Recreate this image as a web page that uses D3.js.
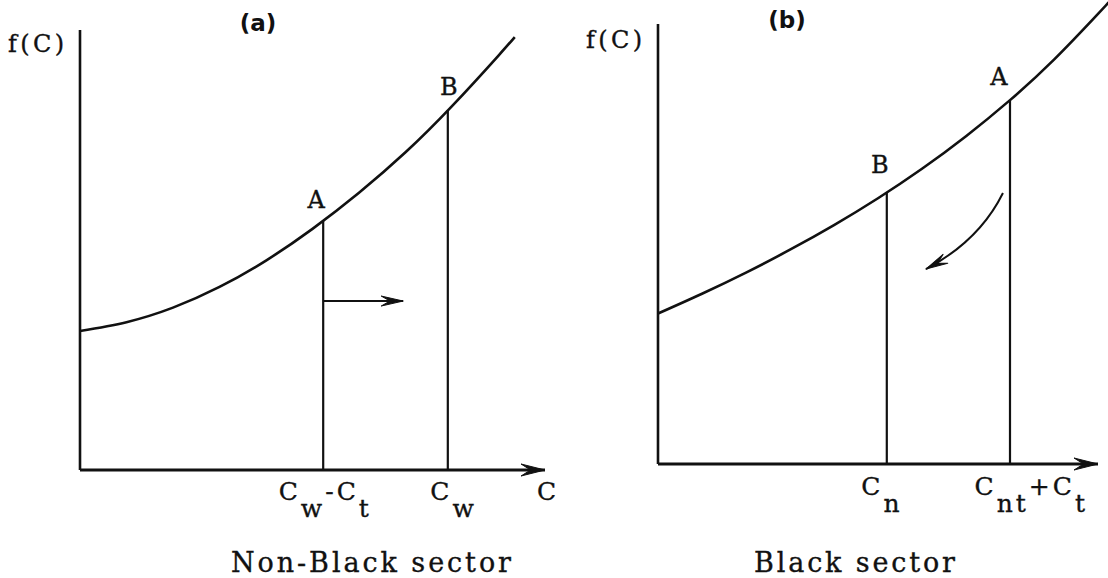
<!DOCTYPE html>
<html>
<head>
<meta charset="utf-8">
<script src="https://cdn.jsdelivr.net/npm/d3@7"></script>
<style>
  html, body { margin: 0; padding: 0; background: #fff; }
  svg { display: block; }
  text { font-family: "DejaVu Serif", "Liberation Serif", serif; fill: #111; stroke: #111; stroke-width: 0.35px; }
</style>
</head>
<body>
<svg id="chart" width="1108" height="578"></svg>
<script>
// ---- Panel (a): Non-Black sector ----
const curveA_C = [0, 1, 2, 3, 4, 5, 6, 7, 8, 9, 9.35];
const curveA_f = [3.16, 3.36, 3.69, 4.16, 4.76, 5.48, 6.30, 7.22, 8.27, 9.42, 9.84];
const pointsA_name = ["A", "B"];
const pointsA_C = [5.23, 7.91];
const pointsA_f = [5.67, 8.18];
// tick labels as [text, role] segments: 0 = normal, 1 = subscript
const ticksA_label = [
  [["C", 0], ["w", 1], ["-C", 0], ["t", 1]],
  [["C", 0], ["w", 1]]
];
const shiftA_C = [5.23, 6.95];   // horizontal arrow: A moves right
const shiftA_f = 3.84;

// ---- Panel (b): Black sector ----
const curveB_C = [0, 1, 2, 3, 4, 5, 6, 7, 8, 9, 10, 10.25];
const curveB_f = [3.42, 3.87, 4.35, 4.87, 5.43, 6.04, 6.71, 7.45, 8.27, 9.19, 10.23, 10.5];
const pointsB_name = ["B", "A"];
const pointsB_C = [5.2, 8.0];
const pointsB_f = [6.17, 8.27];
const ticksB_label = [
  [["C", 0], ["n", 1]],
  [["C", 0], ["nt", 1], ["+C", 0], ["t", 1]]
];
// curved arrow: A slides back toward B (start, control, end)
const moveB_C = [7.84, 7.3, 6.09];
const moveB_f = [6.16, 5.07, 4.43];

const panelTitles = ["(a)", "(b)"];
const sectorNames = ["Non-Black sector", "Black sector"];

const svg = d3.select("#chart");
const ink = "#111";

// arrowheads
const defs = svg.append("defs");
function head(id, len, half) {
  defs.append("marker")
    .attr("id", id)
    .attr("markerUnits", "userSpaceOnUse")
    .attr("viewBox", `${-len - 2} ${-half - 2} ${len + 4} ${2 * half + 4}`)
    .attr("refX", 0).attr("refY", 0)
    .attr("markerWidth", len + 4).attr("markerHeight", 2 * half + 4)
    .attr("orient", "auto")
    .append("path")
    .attr("d", `M0,0 L${-len},${-half} L${-len * 0.6},0 L${-len},${half} Z`)
    .attr("fill", ink).attr("stroke", ink).attr("stroke-width", 1).attr("stroke-linejoin", "round");
}
head("headBig", 24, 6);
head("headSmall", 22, 5);

function drawPanel(cfg) {
  const x = d3.scaleLinear().domain([0, 10]).range(cfg.xRange);
  const y = d3.scaleLinear().domain([0, 10]).range(cfg.yRange);
  const g = svg.append("g");

  // x axis ticks (labels placed at the marked values)
  const axis = d3.axisBottom(x).tickValues(cfg.ptsC).tickSize(0).tickSizeOuter(0).tickFormat("");
  const ag = g.append("g").attr("transform", `translate(0,${y(0)})`).call(axis);
  ag.select(".domain").remove();
  ag.selectAll(".tick text").remove();
  ag.selectAll(".tick").each(function (d, i) {
    const t = d3.select(this).append("text")
      .attr("y", cfg.tickY)
      .attr("x", cfg.tickDx[i])
      .attr("text-anchor", "start")
      .style("font-size", "25px")
      .style("letter-spacing", "3px");
    let sub = false;
    cfg.ticks[i].forEach(([s, role]) => {
      const ts = t.append("tspan").text(s);
      if (role === 1 && !sub) { ts.attr("dy", 17); sub = true; }
      else if (role === 0 && sub) { ts.attr("dy", -17); sub = false; }
    });
  });

  const line = d3.line().x(d => x(d[0])).y(d => y(d[1]));

  // axes with arrow on C
  g.append("path").attr("d", line([[0, 0], [10, 0]]))
    .attr("stroke", ink).attr("stroke-width", 2.8).attr("fill", "none")
    .attr("marker-end", "url(#headBig)");
  g.append("path").attr("d", line([[0, 0], [0, 10]]))
    .attr("stroke", ink).attr("stroke-width", 2.6).attr("fill", "none");

  // f(C) curve
  const curvePts = cfg.curveC.map((c, i) => [c, cfg.curveF[i]]);
  g.append("path").attr("d", d3.line().x(d => x(d[0])).y(d => y(d[1])).curve(d3.curveNatural)(curvePts))
    .attr("stroke", ink).attr("stroke-width", 2.6).attr("fill", "none");

  // verticals at the marked points and their letters
  cfg.ptsC.forEach((c, i) => {
    g.append("path").attr("d", line([[c, 0], [c, cfg.ptsF[i]]]))
      .attr("stroke", ink).attr("stroke-width", 2.2).attr("fill", "none");
    g.append("text")
      .attr("x", x(c) + cfg.nameDx[i]).attr("y", y(cfg.ptsF[i]) + cfg.nameDy[i])
      .attr("text-anchor", "middle")
      .style("font-size", "24px")
      .text(cfg.names[i]);
  });

  // axis names
  g.append("text").attr("x", cfg.fcX).attr("y", cfg.fcY)
    .attr("textLength", 56).attr("lengthAdjust", "spacing")
    .style("font-size", "24px").text("f(C)");
  if (cfg.showC) {
    g.append("text").attr("x", x(10) - 8).attr("y", y(0) + cfg.tickY)
      .style("font-size", "25px").text("C");
  }

  // panel title and sector name
  g.append("text").attr("x", cfg.titleX).attr("y", cfg.titleY)
    .attr("text-anchor", "middle")
    .style("font-family", "'DejaVu Sans', sans-serif").style("font-size", "23px").style("font-weight", "bold")
    .style("stroke-width", "0px")
    .text(cfg.title);
  g.append("text").attr("x", cfg.nameX).attr("y", 572)
    .attr("textLength", cfg.nameLen).attr("lengthAdjust", "spacing")
    .style("font-size", "27px").text(cfg.sector);

  return { g, x, y };
}

// Panel (a)
const pa = drawPanel({
  xRange: [80, 545], yRange: [470, 30],
  curveC: curveA_C, curveF: curveA_f,
  ptsC: pointsA_C, ptsF: pointsA_f, names: pointsA_name,
  nameDx: [-7, 1], nameDy: [-13, -15],
  ticks: ticksA_label, tickDx: [-45, -18], tickY: 30,
  fcX: 8, fcY: 52, showC: true,
  title: panelTitles[0], titleX: 258, titleY: 31,
  sector: sectorNames[0], nameX: 231, nameLen: 280
});
pa.g.append("path")
  .attr("d", d3.line().x(d => pa.x(d[0])).y(d => pa.y(d[1]))(shiftA_C.map(c => [c, shiftA_f])))
  .attr("stroke", ink).attr("stroke-width", 2).attr("fill", "none")
  .attr("marker-end", "url(#headSmall)");

// Panel (b)
const pb = drawPanel({
  xRange: [658, 1098], yRange: [464, 24],
  curveC: curveB_C, curveF: curveB_f,
  ptsC: pointsB_C, ptsF: pointsB_f, names: pointsB_name,
  nameDx: [-7, -11], nameDy: [-20, -15],
  ticks: ticksB_label, tickDx: [-26, -36], tickY: 31,
  fcX: 586, fcY: 48, showC: false,
  title: panelTitles[1], titleX: 787, titleY: 28,
  sector: sectorNames[1], nameX: 754, nameLen: 201
});
const mv = d3.path();
mv.moveTo(pb.x(moveB_C[0]), pb.y(moveB_f[0]));
mv.quadraticCurveTo(pb.x(moveB_C[1]), pb.y(moveB_f[1]), pb.x(moveB_C[2]), pb.y(moveB_f[2]));
pb.g.append("path").attr("d", mv.toString())
  .attr("stroke", ink).attr("stroke-width", 2).attr("fill", "none")
  .attr("marker-end", "url(#headSmall)");
</script>
</body>
</html>
